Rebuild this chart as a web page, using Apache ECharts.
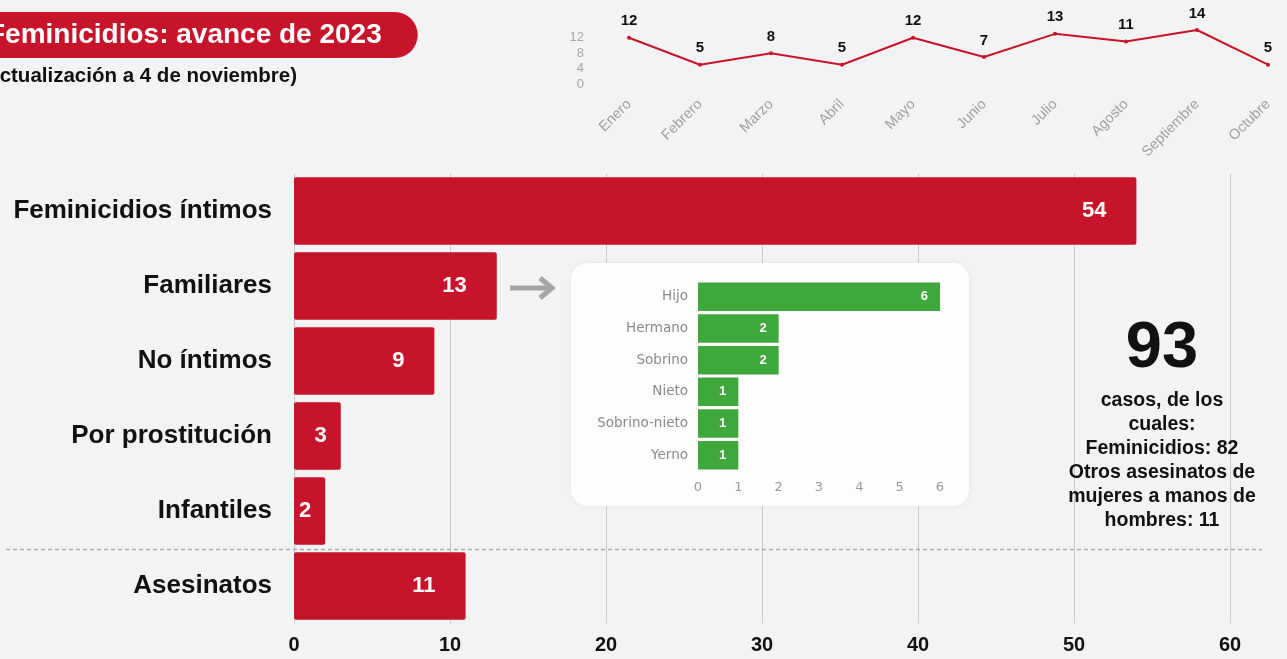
<!DOCTYPE html>
<html>
<head>
<meta charset="utf-8">
<script src="https://cdn.jsdelivr.net/npm/echarts@6/dist/echarts.min.js"></script>
<style>
  html, body { margin: 0; padding: 0; background: #f3f3f3; }
  #chart { width: 1287px; height: 659px; }
</style>
</head>
<body>
<div id="chart"></div>
<script>
// tipos de feminicidio
const tipos = ['Feminicidios íntimos', 'Familiares', 'No íntimos', 'Por prostitución', 'Infantiles', 'Asesinatos'];
const casosTipo = [54, 13, 9, 3, 2, 11];

// avance mensual
const meses = ['Enero', 'Febrero', 'Marzo', 'Abril', 'Mayo', 'Junio', 'Julio', 'Agosto', 'Septiembre', 'Octubre'];
const casosMes = [12, 5, 8, 5, 12, 7, 13, 11, 14, 5];

// detalle de familiares
const parentescos = ['Hijo', 'Hermano', 'Sobrino', 'Nieto', 'Sobrino-nieto', 'Yerno'];
const casosParentesco = [6, 2, 2, 1, 1, 1];

const totalCasos = '93';
const resumen = ['casos, de los', 'cuales:', 'Feminicidios: 82', 'Otros asesinatos de', 'mujeres a manos de', 'hombres: 11'];

const ROJO = '#c8142b';
const VERDE = '#3ea83c';
const FONT = 'Liberation Sans, Arial, sans-serif';
const FONT_INSET = 'DejaVu Sans, sans-serif';

const chart = echarts.init(document.getElementById('chart'));

const option = {
  backgroundColor: '#f3f3f3',
  textStyle: { fontFamily: FONT },
  title: [
    {
      text: 'Feminicidios: avance de 2023',
      left: -28,
      top: 12,
      padding: [7, 36, 7, 16],
      backgroundColor: ROJO,
      borderRadius: [0, 23, 23, 0],
      textStyle: { color: '#fff', fontSize: 28, fontWeight: 'bold', fontFamily: FONT, lineHeight: 32 }
    },
    {
      text: '(Actualización a 4 de noviembre)',
      left: -22,
      top: 66,
      padding: 0,
      textStyle: { color: '#111', fontSize: 20.5, fontWeight: 'bold', fontFamily: FONT }
    }
  ],
  grid: [
    { left: 294, right: 57, top: 173.5, bottom: 35.5 },
    { left: 629, right: 19, top: 30, bottom: 659 - 84 },
    { left: 698, right: 1287 - 940, top: 281, bottom: 659 - 471 }
  ],
  xAxis: [
    {
      gridIndex: 0,
      type: 'value',
      min: 0,
      max: 60,
      interval: 10,
      axisLine: { show: false },
      axisTick: { show: false },
      splitLine: { lineStyle: { color: '#c9c9c9', width: 1 } },
      axisLabel: { color: '#111', fontSize: 20, fontWeight: 'bold', margin: 12 }
    },
    {
      gridIndex: 1,
      type: 'category',
      data: meses,
      boundaryGap: false,
      axisLine: { show: false },
      axisTick: { show: false },
      axisLabel: { color: '#a0a0a0', fontSize: 14.5, rotate: 45, margin: 18, interval: 0 }
    },
    {
      gridIndex: 2,
      type: 'value',
      min: 0,
      max: 6,
      interval: 1,
      z: 4,
      axisLine: { show: false },
      axisTick: { show: false },
      splitLine: { show: false },
      axisLabel: { color: '#9a9a9a', fontSize: 13, fontFamily: FONT_INSET, margin: 10 }
    }
  ],
  yAxis: [
    {
      gridIndex: 0,
      type: 'category',
      data: tipos,
      inverse: true,
      axisLine: { show: false },
      axisTick: { show: false },
      axisLabel: { color: '#111', fontSize: 26, fontWeight: 'bold', margin: 22 }
    },
    {
      gridIndex: 1,
      type: 'value',
      min: 0,
      max: 14,
      interval: 4,
      axisLine: { show: false },
      axisTick: { show: false },
      splitLine: { show: false },
      axisLabel: { color: '#a8a8a8', fontSize: 13, margin: 45, showMaxLabel: false }
    },
    {
      gridIndex: 2,
      type: 'category',
      data: parentescos,
      inverse: true,
      z: 4,
      axisLine: { show: false },
      axisTick: { show: false },
      axisLabel: { color: '#8a8a8a', fontSize: 13.5, fontFamily: FONT_INSET, margin: 10 }
    }
  ],
  series: [
    {
      type: 'bar',
      xAxisIndex: 0,
      yAxisIndex: 0,
      // etiquetas más pegadas al borde en las barras cortas
      data: casosTipo.map(v => ({ value: v, label: { distance: v >= 5 ? 30 : 14 } })),
      barCategoryGap: '10%',
      itemStyle: { color: ROJO, borderRadius: 2 },
      label: {
        show: true,
        position: 'insideRight',
        color: '#fff',
        fontSize: 22,
        fontWeight: 'bold'
      }
    },
    {
      type: 'line',
      xAxisIndex: 1,
      yAxisIndex: 1,
      data: casosMes,
      symbol: 'circle',
      symbolSize: 4,
      lineStyle: { color: ROJO, width: 2 },
      itemStyle: { color: ROJO },
      label: { show: true, position: 'top', distance: 7, color: '#111', fontSize: 15, fontWeight: 'bold' }
    },
    {
      type: 'bar',
      xAxisIndex: 2,
      yAxisIndex: 2,
      z: 4,
      data: casosParentesco,
      barCategoryGap: '10%',
      itemStyle: { color: VERDE },
      label: {
        show: true,
        position: 'insideRight',
        distance: 12,
        color: '#fff',
        fontSize: 13,
        fontWeight: 'bold'
      }
    }
  ]
};

chart.setOption(option);

// separador entre feminicidios y asesinatos, a mitad de las dos categorías
const yA = chart.convertToPixel({ yAxisIndex: 0 }, tipos[4]);
const yB = chart.convertToPixel({ yAxisIndex: 0 }, tipos[5]);
const ySep = Math.round((yA + yB) / 2) + 0.5;

chart.setOption({
  graphic: [
    {
      type: 'line',
      z: 1,
      shape: { x1: 6, y1: ySep, x2: 1262, y2: ySep },
      style: { stroke: '#a9a9a9', lineWidth: 1.5, lineDash: [4, 3] }
    },
    {
      type: 'rect',
      z: 1,
      shape: { x: 571, y: 263, width: 398, height: 243, r: 16 },
      style: { fill: '#fdfdfd', shadowBlur: 6, shadowColor: 'rgba(0,0,0,0.06)' }
    },
    {
      type: 'group',
      z: 1,
      children: [
        { type: 'line', shape: { x1: 510, y1: 288, x2: 550, y2: 288 }, style: { stroke: '#a6a6a6', lineWidth: 5 } },
        { type: 'polyline', shape: { points: [[540, 278], [552, 288], [540, 298]] }, style: { stroke: '#a6a6a6', lineWidth: 5, fill: null } }
      ]
    },
    {
      type: 'text',
      z: 5,
      x: 1162,
      y: 349,
      style: { text: totalCasos, fill: '#111', font: 'bold 65px ' + FONT, align: 'center', verticalAlign: 'middle' }
    },
    {
      type: 'text',
      z: 5,
      x: 1162,
      y: 389,
      style: {
        text: resumen.join('\n'),
        fill: '#111',
        font: 'bold 19.5px ' + FONT,
        lineHeight: 24,
        align: 'center',
        verticalAlign: 'top'
      }
    }
  ]
});
</script>
</body>
</html>
